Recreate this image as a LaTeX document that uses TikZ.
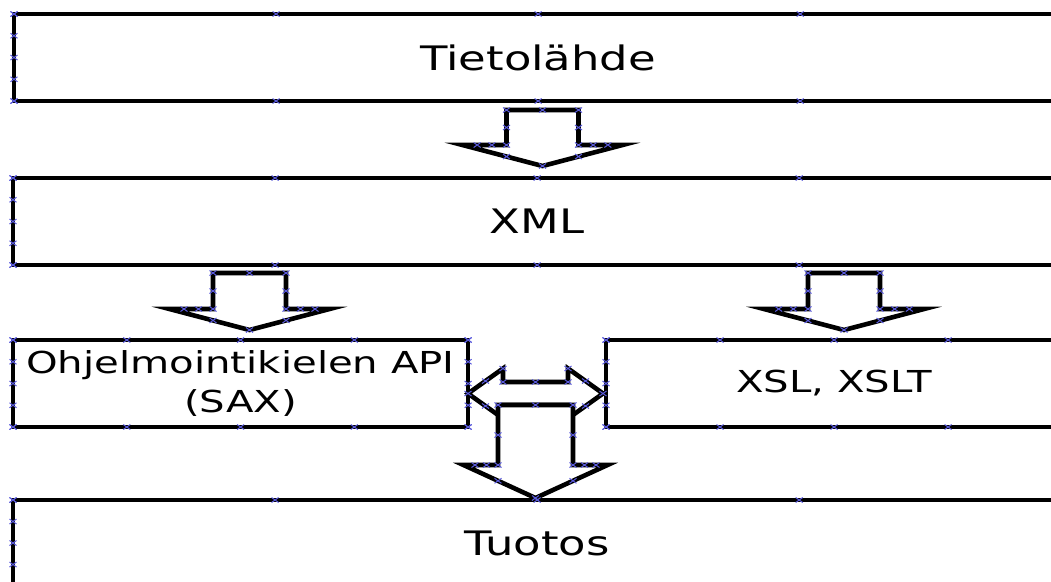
\documentclass[tikz,border=0pt]{standalone}
\usepackage{fontspec}
\setmainfont[FakeStretch=1.33]{DejaVu Sans}
\usepackage{xcolor}
\usepackage{tikz}
\usetikzlibrary{shapes,arrows,positioning,calc}

\definecolor{cpblue}{RGB}{90,90,220}

% small blue connection mark
\newcommand{\cpmark}[1]{\draw[cp] #1 ++(-3.5,-2.5) -- ++(7,5) ++(0,-5) -- ++(-7,5);}
% block arrow pointing down: centre x, top y, shaft half width, wing y, wing half width, tip y
\newcommand{\blockdown}[6]{%
  \draw[blockarrow] ({#1-#3},#2) -- ({#1+#3},#2) -- ({#1+#3},#4) -- ({#1+#5},#4)
    -- (#1,#6) -- ({#1-#5},#4) -- ({#1-#3},#4) -- cycle;
  \foreach \sx in {-1,1} {
    \cpmark{({#1+\sx*#3},#2)}
    \cpmark{({#1+\sx*#3},{(#2+#4)/2})}
    \cpmark{({#1+\sx*#3},#4)}
    \cpmark{({#1+\sx*(#3+(#5-#3)/3)},#4)}
    \cpmark{({#1+\sx*(#3+2*(#5-#3)/3)},#4)}
    \cpmark{({#1+\sx*#3},{#4+(#5-#3)/#5*(#6-#4)})}
  }
  \cpmark{(#1,#2)}
  \cpmark{(#1,#6)}
}

\begin{document}
\begin{tikzpicture}[x=0.025cm, y=-0.025cm]
  % Styles
  \tikzset{
    layerbox/.style={rectangle, draw=black, line width=0.115cm, fill=white, anchor=north west,
      inner sep=0pt, outer sep=0pt, minimum height=2.175cm, align=center,
      font=\fontsize{24}{28}\selectfont},
    widebox/.style={layerbox, minimum width=26.2cm},
    halfbox/.style={layerbox, minimum width=11.4cm, font=\fontsize{21.5}{27.7}\selectfont},
    blockarrow/.style={draw=black, fill=white, line width=0.115cm, line join=miter},
    cp/.style={cpblue, line width=0.7pt}
  }

  \useasboundingbox (0,0) rectangle (1051,581);
  \clip (0,0) rectangle (1051,581);

  % Layers
  \node[widebox] (source) at (14,14) {Tietolähde};
  \node[widebox] (xml) at (13,178) {XML};
  \node[halfbox, minimum width=11.375cm] (api) at (13,340) {Ohjelmointikielen API\\(SAX)};
  \node[halfbox] (xsl) at (606,340) {XSL, XSLT};
  \node[widebox, minimum height=2.15cm] (output) at (13,500) {Tuotos};

  % Block arrows
  \blockdown{542.5}{110}{36}{145}{80}{166}
  \blockdown{249.5}{273}{36.5}{309}{80}{330}
  \blockdown{844}{273}{36}{309}{80}{330}

  % Two-way arrow between API and XSL
  \draw[blockarrow] (468,393.5) -- (503,368.5) -- (503,382) -- (568,382) -- (568,368.5)
    -- (603,393.5) -- (568,418.5) -- (568,405) -- (503,405) -- (503,418.5) -- cycle;
  \foreach \p in {(468,393.5),(503,368.5),(503,382),(535.5,382),(568,382),(568,368.5),
                  (603,393.5),(485.5,381),(585.5,381),(485.5,406),(585.5,406)} {
    \cpmark{\p}
  }

  % Down to output
  \blockdown{535.5}{405}{37.5}{465}{72}{498}

  % Connection marks on the layers
  \foreach \n in {source,xml,api,xsl,output} {
    \foreach \t in {0,0.25,0.5,0.75,1} {
      \cpmark{($(\n.north west)!\t!(\n.north east)$)}
      \cpmark{($(\n.south west)!\t!(\n.south east)$)}
      \cpmark{($(\n.north west)!\t!(\n.south west)$)}
      \cpmark{($(\n.north east)!\t!(\n.south east)$)}
    }
  }

\end{tikzpicture}
\end{document}
